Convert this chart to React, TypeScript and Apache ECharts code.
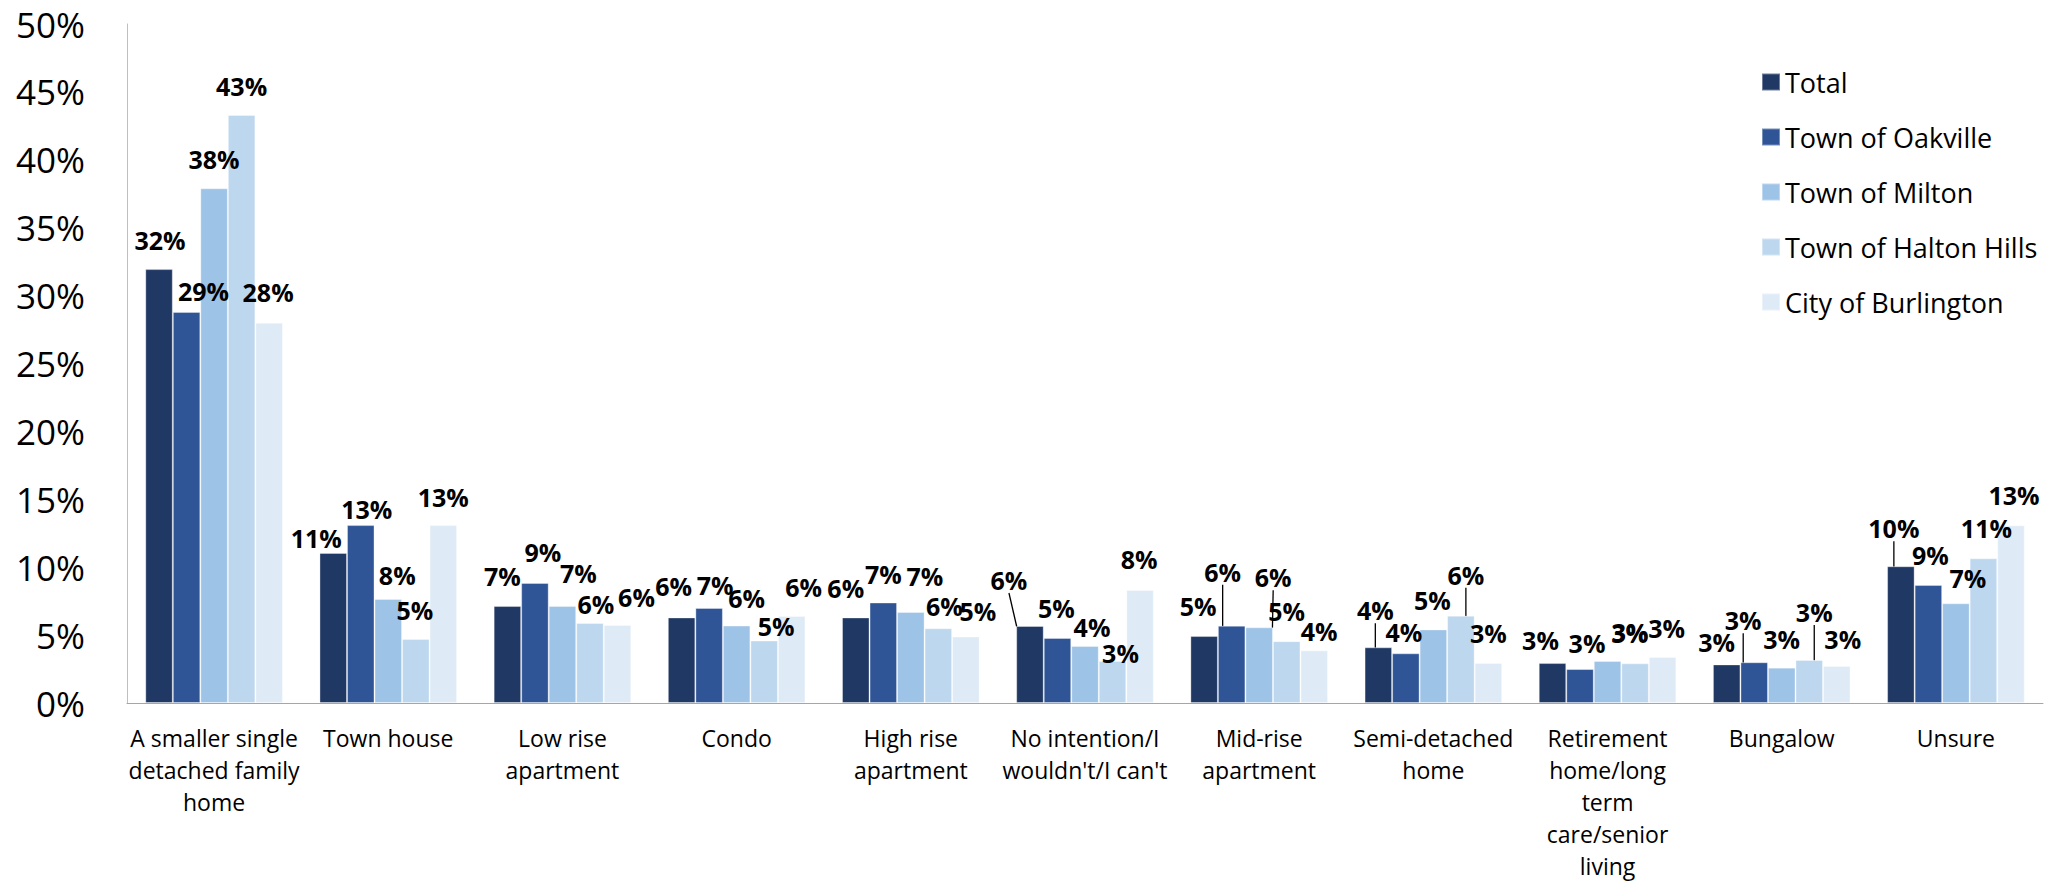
import React, { useEffect, useRef } from "react";
import * as echarts from "echarts";

const categories = [
  "A smaller single\ndetached family\nhome",
  "Town house",
  "Low rise\napartment",
  "Condo",
  "High rise\napartment",
  "No intention/I\nwouldn't/I can't",
  "Mid-rise\napartment",
  "Semi-detached\nhome",
  "Retirement\nhome/long\nterm\ncare/senior\nliving",
  "Bungalow",
  "Unsure",
];

const seriesNames = ["Total", "Town of Oakville", "Town of Milton", "Town of Halton Hills", "City of Burlington"];

const total = [31.95, 11.05, 7.14, 6.3, 6.3, 5.67, 4.93, 4.1, 2.94, 2.84, 10.07];
const oakville = [28.8, 13.1, 8.84, 7.0, 7.4, 4.79, 5.69, 3.66, 2.5, 3.0, 8.69];
const milton = [37.9, 7.66, 7.14, 5.7, 6.7, 4.2, 5.57, 5.42, 3.09, 2.6, 7.34];
const haltonHills = [43.3, 4.71, 5.89, 4.6, 5.5, 3.09, 4.55, 6.43, 2.92, 3.17, 10.65];
const burlington = [28.0, 13.1, 5.74, 6.4, 4.9, 8.32, 3.88, 2.94, 3.39, 2.72, 13.08];

const yTicks = [0, 5, 10, 15, 20, 25, 30, 35, 40, 45, 50];

const colors = ["#203864", "#2f5597", "#9dc3e6", "#bdd7ee", "#deebf7"];

// label nudges (dx, dy) in px, per series per category
const labelNudges = [
  [[1, 0], [-17, 14], [-5, -1], [-8, -2], [-10, 0], [-21, -17], [-6, -1], [-3, -8], [-12, 6], [-10, 7], [-7, -9]],
  [[17, 8], [6, 13], [8, -2], [6, 6], [0, 0], [-1, -1], [-9, -25], [-2, 8], [7, 3], [-11, -13], [2, -1]],
  [[0, 0], [9, 5], [16, -4], [10, 1], [14, -7], [7, 10], [14, -21], [-1, 0], [22, 1], [0, 0], [12, 4]],
  [[0, 0], [-1, 0], [6, 10], [12, 14], [6, 7], [8, 21], [0, -1], [5, -12], [-5, -2], [5, -19], [3, -1]],
  [[-1, -2], [0, 1], [19, 1], [12, 0], [12, 4], [-1, -2], [5, 10], [0, -1], [4, 0], [6, 2], [3, -1]],
];
// which labels carry a leader line
const leaderLines = [[5, 7, 10], [6, 9], [6], [7, 9], []];

export default function App() {
  const ref = useRef<HTMLDivElement>(null);
  useEffect(() => {
    if (!ref.current) return;
    const chart = echarts.init(ref.current, undefined, { renderer: "svg" });
    const values = [total, oakville, milton, haltonHills, burlington];
    const series = values.map((vals, si) => ({
      name: seriesNames[si],
      type: "bar",
      barGap: "0%",
      barCategoryGap: "21%",
      itemStyle: { color: colors[si], borderColor: "rgba(255,255,255,0.35)", borderWidth: 1 },
      label: {
        show: true,
        position: "top",
        distance: 16,
        fontFamily: "Open Sans",
        fontWeight: "bold",
        fontSize: 25,
        lineHeight: 26,
        color: "#000",
        formatter: (p: any) => Math.round(p.value) + "%",
      },
      labelLine: { show: false },
      labelLayout: (p: any) => {
        const n = labelNudges[p.seriesIndex][p.dataIndex];
        return { dx: n[0], dy: n[1] };
      },
      data: vals.map((v, i) =>
        leaderLines[si].includes(i)
          ? { value: v, labelLine: { show: true, lineStyle: { color: "#000", width: 1.3 } } }
          : v
      ),
    }));

    chart.setOption({
      animation: false,
      color: colors,
      grid: { left: 127, right: 25, top: 24, bottom: 179, containLabel: false },
      legend: {
        orient: "vertical",
        left: 1756,
        top: 63,
        padding: 5,
        icon: "rect",
        itemWidth: 18,
        itemHeight: 17,
        itemGap: 27,
        textStyle: { fontFamily: "Open Sans", fontSize: 27, lineHeight: 28, color: "#000" },
        data: seriesNames,
      },
      xAxis: {
        type: "category",
        data: categories,
        axisLine: { show: true, lineStyle: { color: "#a6a6a6", width: 1 } },
        axisTick: { show: false },
        axisLabel: {
          interval: 0,
          margin: 19,
          fontFamily: "Open Sans",
          fontSize: 23,
          lineHeight: 32,
          color: "#000",
          align: "center",
        },
      },
      yAxis: {
        type: "value",
        min: yTicks[0],
        max: yTicks[yTicks.length - 1],
        interval: 5,
        axisLine: { show: true, lineStyle: { color: "#bfbfbf", width: 1 } },
        axisTick: { show: false },
        splitLine: { show: false },
        axisLabel: {
          margin: 42,
          fontFamily: "Open Sans",
          fontSize: 35,
          color: "#000",
          formatter: "{value}%",
        },
      },
      series,
    });
    return () => chart.dispose();
  }, []);
  return (
    <div
      ref={ref}
      style={{ position: "fixed", left: 0, top: 0, width: 2068, height: 882, background: "#fff" }}
    />
  );
}
